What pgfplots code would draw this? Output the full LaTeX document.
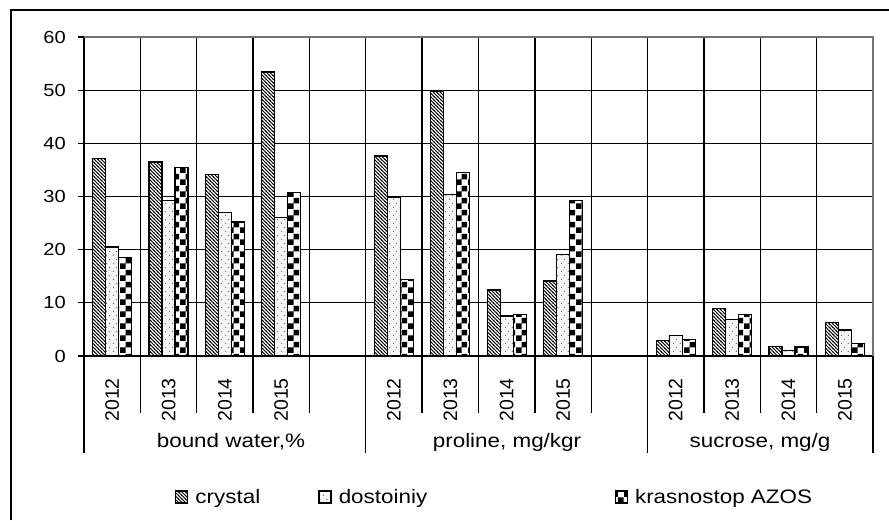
\documentclass[border=0pt]{standalone}
\usepackage{fontspec}
\setmainfont{Liberation Sans}[FakeStretch=1.15]
\newfontfamily\plainfont{Liberation Sans}
\usepackage{pgfplots}
\pgfplotsset{compat=1.18}
\usepackage{pgfplotstable}
\usetikzlibrary{patterns}

\pgfdeclarepatternformonly{hatchnw}{\pgfqpoint{-1pt}{-1pt}}{\pgfqpoint{4.5pt}{4.5pt}}{\pgfqpoint{3.5pt}{3.5pt}}{%
  \pgfsetlinewidth{0.9pt}%
  \pgfpathmoveto{\pgfqpoint{-0.5pt}{4pt}}%
  \pgfpathlineto{\pgfqpoint{4pt}{-0.5pt}}%
  \pgfusepath{stroke}}
\pgfdeclarepatternformonly{sparsedots}{\pgfpointorigin}{\pgfqpoint{7pt}{8pt}}{\pgfqpoint{7pt}{8pt}}{%
  \pgfpathcircle{\pgfqpoint{1.75pt}{2pt}}{0.75pt}%
  \pgfpathcircle{\pgfqpoint{5.25pt}{6pt}}{0.75pt}%
  \pgfusepath{fill}}
\pgfdeclarepatternformonly{bigchecker}{\pgfpointorigin}{\pgfqpoint{12pt}{12pt}}{\pgfqpoint{12pt}{12pt}}{%
  \pgfpathrectangle{\pgfpointorigin}{\pgfqpoint{6.05pt}{6.05pt}}%
  \pgfpathrectangle{\pgfqpoint{6pt}{6pt}}{\pgfqpoint{6.05pt}{6.05pt}}%
  \pgfusepath{fill}}

\newcommand\ticksize{\fontsize{17.5}{20}\selectfont}
\newcommand\txtsize{\fontsize{19.5}{22}\selectfont}
\newcommand\yearsize{\plainfont\fontsize{19.5}{22}\selectfont}

\pgfplotstableread{
x   crystal dost  kras
0   37.1    20.5  18.5
1   36.5    29.3  35.4
2   34.2    27.0  25.2
3   53.4    26.0  30.7
5   37.6    29.8  14.4
6   49.8    30.4  34.5
7   12.4    7.5   7.8
8   14.1    19.1  29.2
10  2.9     3.8   3.1
11  9.0     6.9   7.8
12  1.75    1.1   1.7
13  6.3     4.9   2.4
}\datatable

\begin{document}
\begin{tikzpicture}[x=1pt,y=1pt]
\useasboundingbox (0,0) rectangle (889,520);
% vertical grid lines at category boundaries (behind bars)
\foreach \k in {1,...,13}
  \draw[black, line width=1.3pt] ({84+\k*56.357},483) -- ({84+\k*56.357},164);
\begin{axis}[
  at={(84pt,164pt)}, anchor=south west,
  scale only axis, width=789pt, height=319pt,
  xmin=-0.5, xmax=13.5, ymin=0, ymax=60,
  ybar=0pt, bar width=13pt,
  axis lines=left, axis line style={-, line width=1.3pt, black},
  ytick={0,10,...,60},
  ymajorgrids, major grid style={black, line width=1.3pt},
  xtick={0,...,13},
  xticklabels={2012,2013,2014,2015,{},2012,2013,2014,2015,{},2012,2013,2014,2015},
  x tick style={draw=none},
  y tick style={black, line width=1.3pt},
  tick align=outside, major tick length=6pt,
  /pgf/number format/assume math mode=true,
  yticklabel style={font=\ticksize, inner sep=0pt, xshift=-12pt},
  xticklabel style={font=\yearsize, inner sep=0pt, yshift=-16pt, rotate=90, anchor=east},
  legend columns=3,
  legend style={draw=none, fill=none, inner sep=0pt, at={(0.1153,-0.442)}, anchor=west,
    font=\txtsize, nodes={inner sep=0pt}, /tikz/every odd column/.append style={column sep=7pt}},
  mylegimg/.style={legend image code/.code={\draw[##1,line width=1.3pt] (0pt,-6pt) rectangle (12pt,6pt);}},
]
\addplot[draw=black, line width=1.3pt, fill=white, postaction={pattern=hatchnw, pattern color=black}, mylegimg]
  table[x=x, y=crystal] {\datatable};
\addlegendentry{\makebox[123pt][l]{crystal}}
\addplot[draw=black, line width=1.3pt, fill=gray!7, postaction={pattern=sparsedots, pattern color=gray!80!black}, mylegimg]
  table[x=x, y=dost] {\datatable};
\addlegendentry{\makebox[276pt][l]{dostoiniy}}
\addplot[draw=black, line width=1.3pt, fill=white, postaction={pattern=bigchecker, pattern color=black}, mylegimg]
  table[x=x, y=kras] {\datatable};
\addlegendentry{krasnostop AZOS}
\end{axis}
% top and right plot-area borders (gray)
\draw[gray!90!black, line width=1.3pt] (84,483) -- (873,483) -- (873,164);
% category row separators
\foreach \k in {1,2,3,4,6,7,8,9,11,12,13}
  \draw[black, line width=1.3pt] ({84+\k*56.357},164) -- ++(0,-57);
\foreach \k in {0,5,10,14}
  \draw[black, line width=1.3pt] ({84+\k*56.357},164) -- ++(0,-97);
% group labels
\node[font=\txtsize] at (231,78) {bound water,\%};
\node[font=\txtsize] at (507,78) {proline, mg/kgr};
\node[font=\txtsize] at (760,78) {sucrose, mg/g};
% outer frame (clipped at right and bottom)
\draw[black, line width=2pt] (10.5,0) -- (10.5,509.5) -- (889,509.5);
\end{tikzpicture}
\end{document}
